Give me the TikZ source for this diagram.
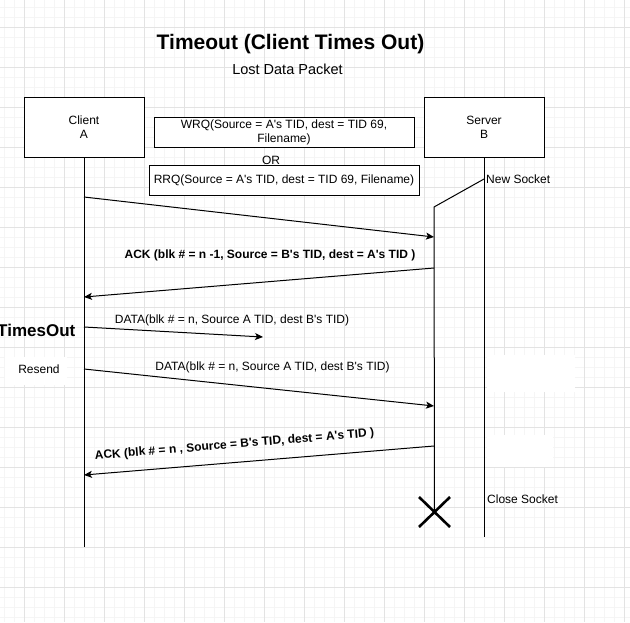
\documentclass[tikz,border=0pt]{standalone}
\usepackage{fontspec}
\setmainfont{Liberation Sans}
\usetikzlibrary{arrows.meta}
\newcommand\qs{\textquotesingle}
\begin{document}
\begin{tikzpicture}[x=1pt,y=-1pt,
  every node/.style={font=\fontsize{12}{14}\selectfont, inner sep=0pt},
  minorgrid/.style={draw=black!4, line width=0.6pt},
  majorgrid/.style={draw=black!11, line width=1pt},
  actor/.style={draw, line width=1pt, minimum width=120pt, minimum height=60pt, align=center, fill=white},
  msgbox/.style={draw, line width=1pt, align=center, fill=white, minimum height=30pt},
  life/.style={line width=1pt},
  msg/.style={line width=1pt, -{Stealth[length=8pt,width=7pt,inset=2pt]}},
  blbl/.style={font=\bfseries\fontsize{12}{14}\selectfont},
  xmark/.style={line width=2.6pt},
]
\useasboundingbox (0,0) rectangle (630,622);
\fill[white] (0,0) rectangle (630,622);
% grid
\foreach \x in {4,14,...,624} \draw[minorgrid] (\x,0) -- (\x,622);
\foreach \y in {7,17,...,617} \draw[minorgrid] (0,\y) -- (630,\y);
\foreach \x in {24,64,...,624} \draw[majorgrid] (\x,0) -- (\x,622);
\foreach \y in {27,67,...,587} \draw[majorgrid] (0,\y) -- (630,\y);
% blank patches
\fill[white] (5,357) rectangle (67,385);
\fill[white] (487,355) rectangle (575,392);
\fill[white] (487,435) rectangle (553,467);

% title
\node[font=\bfseries\fontsize{21}{25}\selectfont] (title) at (290.5,44) {Timeout (Client Times Out)};
\node[font=\fontsize{14.5}{17}\selectfont] (subtitle) at (287.5,69) {Lost Data Packet};

% actors
\node[actor] (client) at (84,127) {Client\\A};
\node[actor] (server) at (484,127) {Server\\B};

% request boxes
\node[msgbox, minimum width=260pt] (wrq) at (284,132) {WRQ(Source = A\qs s TID, dest = TID 69,\\Filename)};
\node[msgbox, minimum width=270pt] (rrq) at (284,180) {RRQ(Source = A\qs s TID, dest = TID 69, Filename)};
\node (or) at (271,160.5) {OR};

% lifelines
\coordinate (cEnd) at (84,547);
\coordinate (sEnd) at (484,537);
\draw[life] (client.south) -- (cEnd);
\draw[life] (server.south) -- (sEnd);
\coordinate (ns) at (484,179);
\coordinate (actTop) at (434,207);
\coordinate (actBot) at (434.5,512);
\draw[life] (ns) -- (actTop) -- (actBot);
\node[anchor=west] (newsock) at (486,179) {New Socket};
\node[anchor=west] (closesock) at (487,499) {Close Socket};
\draw[xmark] (419,497) -- (450,527) (419,527) -- (450,497);

% messages
\coordinate (m1s) at (84,197);
\coordinate (m1e) at (434,237);
\draw[msg] (m1s) -- (m1e);

\coordinate (m2s) at (434,268);
\coordinate (m2e) at (84,297);
\draw[msg] (m2s) -- (m2e);
\node[blbl] (ack1) at (270,255) {ACK (blk \# = n -1, Source = B\qs s TID, dest = A\qs s TID )};

\node[font=\bfseries\fontsize{17}{20}\selectfont, anchor=east] (timesout) at (75.5,330) {TimesOut};
\coordinate (m3s) at (84,327);
\coordinate (m3e) at (263,337);
\draw[msg] (m3s) -- (m3e);
\node (data1) at (232,320) {DATA(blk \# = n, Source A TID, dest B\qs s TID)};

\node (resend) at (39,369) {Resend};
\coordinate (m4s) at (84,369);
\coordinate (m4e) at (434,406);
\draw[msg] (m4s) -- (m4e);
\node (data2) at (272.5,367) {DATA(blk \# = n, Source A TID, dest B\qs s TID)};

\coordinate (m5s) at (434,446);
\coordinate (m5e) at (84,475);
\draw[msg] (m5s) -- (m5e);
\node[blbl, rotate=4.7] (ack2) at (234.5,445) {ACK (blk \# = n , Source = B\qs s TID, dest = A\qs s TID )};
\end{tikzpicture}
\end{document}
